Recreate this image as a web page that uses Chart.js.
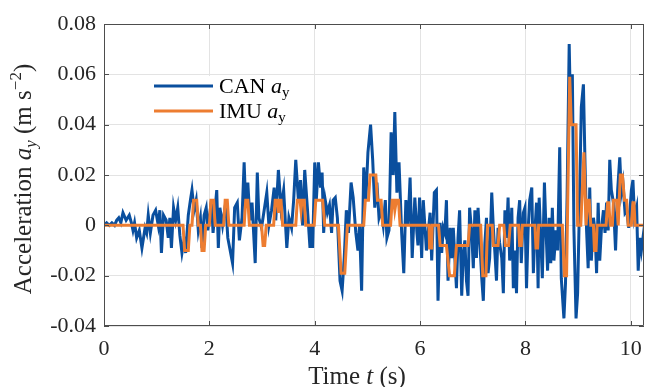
<!DOCTYPE html>
<html>
<head>
<meta charset="utf-8">
<script src="https://cdn.jsdelivr.net/npm/chart.js@4.4.0/dist/chart.umd.min.js"></script>
<style>
  html, body { margin: 0; padding: 0; background: #fff; }
  canvas { display: block; }
</style>
</head>
<body>
<canvas id="chart" width="646" height="387"></canvas>
<script>
// CAN bus lateral acceleration (s, m/s^2)
const canTime = [
  0.00, 0.05, 0.10, 0.15, 0.20, 0.24, 0.28, 0.32, 0.36, 0.40, 0.42, 0.48, 0.52, 0.55, 0.58, 0.62, 0.67, 0.72, 0.78, 0.81,
  0.84, 0.88, 0.93, 0.98, 1.03, 1.06, 1.09, 1.13, 1.18, 1.22, 1.25, 1.28, 1.32, 1.36, 1.40, 1.44, 1.48, 1.52, 1.55, 1.60,
  1.64, 1.67, 1.71, 1.75, 1.79, 1.83, 1.86, 1.90, 1.94, 1.97, 2.04, 2.07, 2.14, 2.17, 2.20, 2.25, 2.31, 2.35, 2.44, 2.48,
  2.53, 2.57, 2.62, 2.66, 2.69, 2.73, 2.77, 2.81, 2.87, 2.91, 2.94, 2.99, 3.04, 3.09, 3.13, 3.18, 3.23, 3.26, 3.31, 3.36,
  3.41, 3.47, 3.51, 3.56, 3.60, 3.64, 3.69, 3.73, 3.77, 3.81, 3.86, 3.91, 3.94, 3.96, 4.00, 4.03, 4.07, 4.11, 4.14, 4.17,
  4.20, 4.24, 4.28, 4.32, 4.35, 4.39, 4.43, 4.48, 4.52, 4.56, 4.60, 4.64, 4.69, 4.73, 4.78, 4.82, 4.85, 4.89, 4.93, 4.97,
  5.01, 5.06, 5.10, 5.14, 5.18, 5.22, 5.26, 5.30, 5.34, 5.37, 5.41, 5.45, 5.49, 5.52, 5.56, 5.60, 5.65, 5.69, 5.73, 5.77,
  5.81, 5.85, 5.90, 5.94, 5.96, 5.99, 6.03, 6.06, 6.12, 6.19, 6.22, 6.27, 6.31, 6.34, 6.38, 6.41, 6.44, 6.47, 6.50, 6.53,
  6.57, 6.60, 6.63, 6.66, 6.69, 6.72, 6.75, 6.79, 6.82, 6.85, 6.88, 6.91, 6.94, 6.98, 7.01, 7.04, 7.07, 7.10, 7.13, 7.17,
  7.20, 7.23, 7.26, 7.29, 7.32, 7.36, 7.39, 7.42, 7.45, 7.48, 7.51, 7.55, 7.58, 7.61, 7.64, 7.67, 7.70, 7.74, 7.77, 7.80,
  7.83, 7.86, 7.89, 7.92, 7.96, 7.99, 8.02, 8.05, 8.08, 8.12, 8.15, 8.18, 8.21, 8.24, 8.26, 8.29, 8.32, 8.36, 8.39, 8.42,
  8.45, 8.48, 8.51, 8.54, 8.58, 8.61, 8.65, 8.68, 8.73, 8.76, 8.79, 8.83, 8.86, 8.89, 8.92, 8.96, 8.99, 9.02, 9.06, 9.10,
  9.13, 9.16, 9.19, 9.22, 9.25, 9.29, 9.32, 9.35, 9.38, 9.41, 9.44, 9.48, 9.51, 9.54, 9.57, 9.60, 9.63, 9.67, 9.71, 9.75,
  9.79, 9.82, 9.85, 9.89, 9.92, 9.96, 10.01, 10.04, 10.07, 10.11, 10.14, 10.17, 10.20, 10.23, 10.25
];
const canAy = [
  0.000, 0.001, 0.000, 0.001, 0.000, 0.002, 0.003, 0.001, 0.005, 0.003, 0.002, 0.004, 0.001, -0.002, 0.001, -0.005, -0.002, -0.009, -0.001, -0.003,
  0.004, -0.003, 0.004, 0.006, 0.000, 0.006, -0.011, 0.004, 0.002, -0.005, 0.003, -0.009, 0.007, 0.002, 0.007, -0.004, -0.011, -0.006, -0.011, 0.004,
  0.010, 0.014, 0.006, 0.010, -0.002, 0.003, -0.009, 0.004, 0.007, -0.002, 0.010, -0.003, 0.014, -0.009, 0.007, 0.000, 0.009, -0.005, -0.015, 0.007,
  0.009, -0.006, 0.003, 0.025, 0.007, 0.017, 0.002, 0.009, -0.015, 0.021, 0.003, -0.001, 0.006, 0.013, 0.000, 0.006, 0.015, 0.002, 0.022, 0.007,
  0.014, -0.009, 0.003, -0.001, 0.010, 0.026, 0.010, 0.018, 0.000, 0.022, 0.007, -0.009, 0.000, -0.009, 0.025, 0.010, 0.025, 0.015, 0.021, -0.003,
  0.010, 0.005, 0.008, -0.003, 0.010, 0.011, 0.003, -0.022, -0.026, -0.013, 0.006, -0.003, 0.017, 0.011, -0.003, -0.010, 0.000, -0.026, 0.023, 0.010,
  0.029, 0.040, 0.026, 0.007, 0.017, 0.003, 0.006, 0.000, 0.010, -0.005, -0.002, 0.037, 0.020, 0.045, 0.013, 0.025, -0.003, -0.019, 0.010, 0.000,
  0.019, -0.013, 0.011, -0.003, -0.008, 0.011, -0.013, 0.010, -0.010, 0.005, -0.014, 0.013, 0.014, -0.030, 0.001, -0.011, -0.001, -0.003, 0.010, -0.022,
  -0.001, -0.013, -0.001, -0.013, -0.025, -0.005, 0.006, -0.028, -0.011, -0.006, -0.022, -0.028, 0.007, -0.003, -0.017, 0.006, -0.013, 0.007, -0.005, -0.021,
  -0.030, -0.007, 0.003, -0.019, -0.013, 0.013, -0.001, -0.011, -0.022, -0.001, -0.007, -0.013, -0.027, 0.006, -0.005, 0.011, -0.014, 0.007, -0.025, -0.010,
  -0.027, 0.003, 0.010, -0.015, 0.005, 0.007, -0.025, -0.002, 0.010, 0.015, -0.019, -0.002, 0.009, -0.025, 0.011, -0.005, -0.021, 0.017, -0.002, -0.018,
  0.003, -0.015, 0.007, -0.014, -0.002, -0.010, 0.031, -0.021, -0.037, -0.023, 0.011, 0.072, 0.040, 0.060, -0.002, -0.037, -0.027, 0.003, 0.047, 0.056,
  0.025, -0.002, -0.017, 0.015, -0.014, 0.003, -0.002, -0.019, 0.009, -0.014, -0.002, 0.006, -0.003, 0.009, -0.002, 0.026, 0.014, 0.009, -0.010, 0.014,
  0.027, 0.013, 0.017, 0.005, 0.006, -0.001, 0.014, 0.018, 0.003, 0.007, -0.018, -0.005, -0.010, -0.005, -0.008
];

// IMU lateral acceleration (s, m/s^2)
const imuTime = [
  0.00, 1.50, 1.53, 1.60, 1.63, 1.67, 1.70, 1.76, 1.79, 1.83, 1.86, 1.90, 1.93, 2.00, 2.03, 2.08, 2.11, 2.27, 2.30, 2.34,
  2.37, 2.66, 2.69, 2.73, 2.76, 2.99, 3.02, 3.05, 3.08, 3.22, 3.25, 3.29, 3.31, 3.33, 3.36, 3.39, 3.64, 3.67, 3.72, 3.74,
  3.76, 3.80, 3.83, 3.99, 4.02, 4.15, 4.19, 4.45, 4.50, 4.57, 4.62, 4.93, 4.96, 5.02, 5.05, 5.16, 5.19, 5.26, 5.29, 5.44,
  5.47, 5.50, 5.52, 5.55, 5.59, 5.62, 6.17, 6.18, 6.22, 6.23, 6.35, 6.38, 6.50, 6.56, 6.65, 6.69, 6.91, 6.94, 7.15, 7.19,
  7.25, 7.28, 7.37, 7.39, 7.48, 7.51, 7.59, 7.62, 7.68, 7.71, 7.87, 7.89, 7.92, 7.94, 8.18, 8.20, 8.23, 8.25, 8.70, 8.74,
  8.78, 8.84, 8.87, 8.96, 8.99, 9.05, 9.11, 9.15, 9.18, 9.21, 9.24, 9.29, 9.31, 9.34, 9.36, 9.53, 9.56, 9.58, 9.61, 9.65,
  9.67, 9.73, 9.76, 9.77, 9.80, 9.84, 9.88, 9.92, 9.95, 10.01, 10.04, 10.06, 10.08, 10.25
];
const imuAy = [
  0, 0, -0.010, -0.010, 0, 0, 0.010, 0.010, 0, 0, -0.010, -0.010, 0, 0, 0.010, 0.010, 0, 0, 0.010, 0.010,
  0, 0, 0.010, 0.010, 0, 0, -0.008, -0.008, 0, 0, 0.010, 0.010, 0.005, 0.010, 0.010, 0, 0, 0.010, 0.010, 0.006,
  0.010, 0.010, 0, 0, 0.010, 0.010, 0, 0, -0.019, -0.019, 0, 0, 0.010, 0.010, 0.020, 0.020, 0.010, 0.010, 0, 0,
  0.010, 0.010, 0.006, 0.010, 0.010, 0, 0, -0.009, -0.009, 0, 0, -0.008, -0.008, -0.020, -0.020, -0.008, -0.008, 0, 0, -0.020,
  -0.020, 0, 0, -0.008, -0.008, 0, 0, -0.008, -0.008, 0, 0, -0.008, -0.008, 0, 0, -0.009, -0.009, 0, 0, -0.020,
  -0.020, 0.059, 0.040, 0.040, 0, 0, 0.029, 0, 0.010, 0.010, 0, 0, -0.010, -0.010, 0, 0, 0.009, 0.009, 0, 0,
  0.010, 0.010, 0, 0, 0.020, 0.020, 0.010, 0.010, 0, 0, 0.009, 0.009, 0, 0
];

const xTicks = [0, 2, 4, 6, 8, 10];
const xTickLabels = ['0', '2', '4', '6', '8', '10'];
const yTicks = [-0.04, -0.02, 0, 0.02, 0.04, 0.06, 0.08];
const yTickLabels = ['-0.04', '-0.02', '0', '0.02', '0.04', '0.06', '0.08'];

const BLUE = '#0a4f9e';
const ORANGE = '#ed7d31';
const SERIF = '"Liberation Serif", "Times New Roman", serif';

function toPoints(xs, ys) {
  return xs.map((x, i) => ({ x: x, y: ys[i] }));
}

// draws a row of text pieces with their own fonts / baseline shifts
function drawRich(ctx, parts, x, y) {
  let total = 0;
  parts.forEach(p => { ctx.font = p.font; total += ctx.measureText(p.t).width; });
  let cx = x - total / 2;
  parts.forEach(p => {
    ctx.font = p.font;
    ctx.fillText(p.t, cx, y + (p.dy || 0));
    cx += ctx.measureText(p.t).width;
  });
}
function drawRichLeft(ctx, parts, x, y) {
  let cx = x;
  parts.forEach(p => {
    ctx.font = p.font;
    ctx.fillText(p.t, cx, y + (p.dy || 0));
    cx += ctx.measureText(p.t).width;
  });
}

const decorations = {
  id: 'decorations',
  afterDraw(chart) {
    const ctx = chart.ctx;
    const a = chart.chartArea;
    const xs = chart.scales.x, ys = chart.scales.y;
    ctx.save();
    ctx.fillStyle = '#262626';
    ctx.textBaseline = 'alphabetic';
    ctx.textAlign = 'left';

    // box + inward ticks
    ctx.strokeStyle = '#4d4d4d';
    ctx.lineWidth = 1;
    ctx.beginPath();
    ctx.rect(a.left + 0.5, a.top + 0.5, a.right - a.left - 1, a.bottom - a.top - 1);
    const tl = 5;
    xTicks.forEach(v => {
      const px = Math.round(xs.getPixelForValue(v)) + 0.5;
      ctx.moveTo(px, a.bottom); ctx.lineTo(px, a.bottom - tl);
      ctx.moveTo(px, a.top); ctx.lineTo(px, a.top + tl);
    });
    yTicks.forEach(v => {
      const py = Math.round(ys.getPixelForValue(v)) + 0.5;
      ctx.moveTo(a.left, py); ctx.lineTo(a.left + tl, py);
      ctx.moveTo(a.right, py); ctx.lineTo(a.right - tl, py);
    });
    ctx.stroke();

    // legend
    ctx.fillStyle = '#ffffff';
    ctx.fillRect(148, 76, 160, 48);
    ctx.lineWidth = 3;
    ctx.strokeStyle = BLUE;
    ctx.beginPath(); ctx.moveTo(154, 86); ctx.lineTo(213, 86); ctx.stroke();
    ctx.strokeStyle = ORANGE;
    ctx.beginPath(); ctx.moveTo(154, 111); ctx.lineTo(213, 111); ctx.stroke();
    ctx.fillStyle = '#000000';
    const lf = '22px ' + SERIF, lfi = 'italic 22px ' + SERIF, lfs = '15px ' + SERIF;
    drawRichLeft(ctx, [{ t: 'CAN ', font: lf }, { t: 'a', font: lfi }, { t: 'y', font: lfs, dy: 4 }], 219, 93);
    drawRichLeft(ctx, [{ t: 'IMU ', font: lf }, { t: 'a', font: lfi }, { t: 'y', font: lfs, dy: 4 }], 219, 118);

    // axis titles
    ctx.fillStyle = '#262626';
    const tf = '25px ' + SERIF, tfi = 'italic 25px ' + SERIF, tfs = '17px ' + SERIF, tfsi = 'italic 17px ' + SERIF;
    drawRich(ctx, [{ t: 'Time ', font: tf }, { t: 't', font: tfi }, { t: ' (s)', font: tf }], 357, 384);
    ctx.translate(31, 179);
    ctx.rotate(-Math.PI / 2);
    drawRich(ctx, [
      { t: 'Acceleration ', font: tf }, { t: 'a', font: tfi }, { t: 'y', font: tfsi, dy: 5 },
      { t: ' (m s', font: tf }, { t: '\u22122', font: tfs, dy: -10 }, { t: ')', font: tf }
    ], 0, 0);
    ctx.restore();
  }
};

new Chart(document.getElementById('chart').getContext('2d'), {
  type: 'line',
  data: {
    datasets: [
      {
        label: 'IMU a_y',
        data: toPoints(imuTime, imuAy),
        borderColor: ORANGE,
        borderWidth: 3,
        pointRadius: 0,
        tension: 0,
        order: 0
      },
      {
        label: 'CAN a_y',
        data: toPoints(canTime, canAy),
        borderColor: BLUE,
        borderWidth: 3,
        pointRadius: 0,
        tension: 0,
        order: 1
      }
    ]
  },
  options: {
    responsive: false,
    animation: false,
    devicePixelRatio: 1,
    layout: { padding: { top: 24, right: 2, left: 0, bottom: 0 } },
    plugins: { legend: { display: false }, tooltip: { enabled: false } },
    scales: {
      x: {
        type: 'linear',
        min: 0,
        max: 10.25,
        afterBuildTicks: s => { s.ticks = xTicks.map(v => ({ value: v })); },
        afterFit: s => { s.height = 61; s.paddingLeft = 0; s.paddingRight = 0; },
        grid: { color: '#e3e3e3', lineWidth: 1, drawTicks: false },
        border: { display: false },
        ticks: {
          color: '#262626',
          font: { family: SERIF, size: 22 },
          padding: 10,
          maxRotation: 0,
          callback: (v, i) => xTickLabels[i]
        }
      },
      y: {
        type: 'linear',
        min: -0.04,
        max: 0.08,
        afterBuildTicks: s => { s.ticks = yTicks.map(v => ({ value: v })); },
        afterFit: s => { s.width = 104; s.paddingTop = 0; s.paddingBottom = 0; },
        grid: { color: '#e3e3e3', lineWidth: 1, drawTicks: false },
        border: { display: false },
        ticks: {
          color: '#262626',
          font: { family: SERIF, size: 22 },
          padding: 8,
          callback: (v, i) => yTickLabels[i]
        }
      }
    }
  },
  plugins: [decorations]
});
</script>
</body>
</html>
